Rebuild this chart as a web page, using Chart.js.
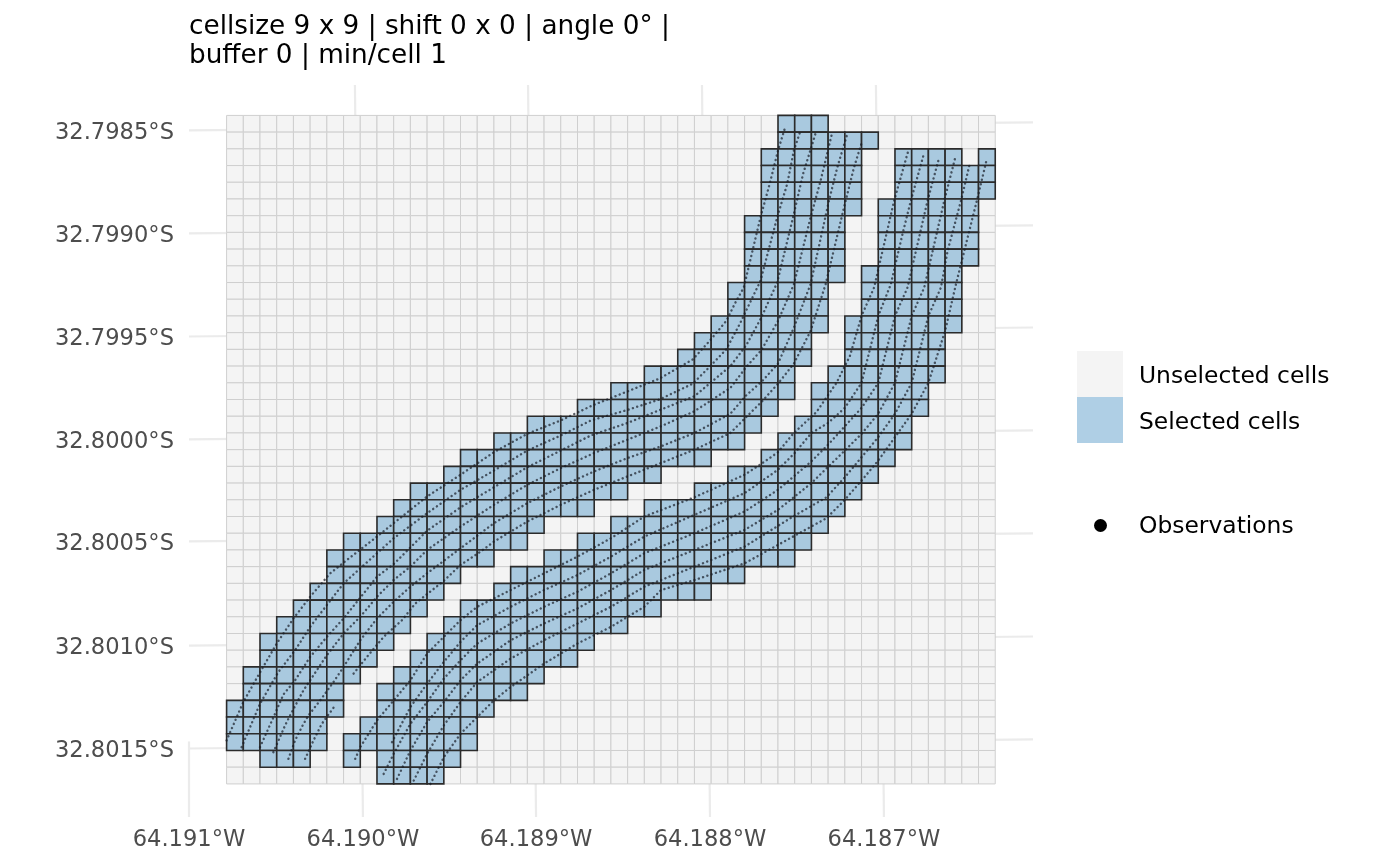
<!DOCTYPE html>
<html>
<head>
<meta charset="utf-8">
<title>cell selection</title>
<script src="https://cdn.jsdelivr.net/npm/chart.js@4"></script>
<style>
    html, body { margin: 0; padding: 0; background: #fff; }
    body { width: 1400px; height: 866px; position: relative; overflow: hidden; font-family: "DejaVu Sans", sans-serif; }
    canvas { position: absolute; left: 0; top: 0; }
    .title { position: absolute; left: 189px; top: 11px; font-size: 26.3px; line-height: 28.6px; color: #000; white-space: pre; }
    .key { position: absolute; left: 1077px; width: 46px; height: 46px; }
    .dot { position: absolute; left: 1094px; top: 519px; width: 13px; height: 13px; border-radius: 50%; background: #000; }
    .label { position: absolute; left: 1139px; font-size: 23.4px; line-height: 24px; color: #000; white-space: pre; }
</style>
</head>
<body>
<canvas id="chart" width="1400" height="866"></canvas>
<div class="title">cellsize 9 x 9 | shift 0 x 0 | angle 0° |
buffer 0 | min/cell 1</div>
<div class="key" style="top:351px;background:#f4f4f4"></div>
<div class="key" style="top:397px;background:#afcfe5"></div>
<div class="dot"></div>
<div class="label" style="top:363px">Unselected cells</div>
<div class="label" style="top:409px">Selected cells</div>
<div class="label" style="top:513px">Observations</div>
<script>
// all positions are in grid units: x = cell column, y = cell row from the top
const gridCols = 46;
const gridRows = 40;

// selected columns of each row, as [first, last]
const selectedRanges = [
    [[33, 35]],
    [[33, 38]],
    [[32, 37], [40, 43], [45, 45]],
    [[32, 37], [40, 45]],
    [[32, 37], [40, 45]],
    [[32, 37], [39, 44]],
    [[31, 36], [39, 44]],
    [[31, 36], [39, 44]],
    [[31, 36], [39, 44]],
    [[31, 36], [38, 43]],
    [[30, 35], [38, 43]],
    [[30, 35], [38, 43]],
    [[29, 35], [37, 43]],
    [[28, 34], [37, 42]],
    [[27, 34], [37, 42]],
    [[25, 33], [36, 42]],
    [[23, 33], [35, 41]],
    [[21, 32], [35, 41]],
    [[18, 31], [34, 40]],
    [[16, 30], [33, 40]],
    [[14, 28], [32, 39]],
    [[13, 25], [30, 38]],
    [[11, 23], [28, 37]],
    [[10, 21], [25, 36]],
    [[9, 18], [23, 35]],
    [[7, 17], [21, 34]],
    [[6, 15], [19, 33]],
    [[6, 13], [17, 30]],
    [[5, 12], [16, 28]],
    [[4, 11], [14, 25]],
    [[3, 10], [13, 23]],
    [[2, 9], [12, 21]],
    [[2, 8], [11, 20]],
    [[1, 7], [10, 18]],
    [[1, 6], [9, 17]],
    [[0, 6], [9, 15]],
    [[0, 5], [8, 14]],
    [[0, 5], [7, 14]],
    [[2, 4], [7, 7], [9, 13]],
    [[9, 12]]
];

const passL1 = [[0,37.4],[1,35.1],[1.9,33.5],[3,31.6],[4,30.1],[5,28.8],[6.2,27.4],[7.2,26.6],[9,25.2],[10,24.4],[12,22.8],[14,21.5],[16,20.15],[18,19.05],[20,18.25],[21.9,17.35],[23.9,16.55],[25.9,15.75],[27.9,14.6],[28.9,13.5],[29.9,12.3],[30.5,11.1],[30.95,10.3],[31.95,6.1],[32.5,4.1],[33,2.1],[33.4,0.8]];
const passL2 = [[0.9,37.8],[2,35.2],[3.1,33.3],[4.1,32],[5,30.6],[6,29.3],[7,28],[9,26.2],[10,25.3],[12,23.8],[14,22.4],[16,21.25],[18,20.05],[20,19.15],[21.8,18.25],[23.9,17.65],[25.9,17],[27.9,16.05],[28.9,15.05],[29.9,14],[30.7,12.5],[31.95,9.9],[32.95,6.1],[33.55,4.1],[33.95,2.1],[34.35,0.9]];
const passL3 = [[2,37.8],[2.9,35.8],[3.4,34.65],[4.1,33.8],[5,32.4],[6,31.2],[7,30.1],[8,28.85],[9,27.6],[10,26.85],[11,25.85],[12,24.85],[14,23.45],[16,22.25],[18,21.05],[20,20.05],[21.8,19.15],[24,18.4],[26,17.6],[28,16.8],[30.15,15],[31.1,13.75],[32,12.1],[32.95,10],[33.9,6.1],[34.5,3.5],[35.3,0.9]];
const passL4 = [[2.8,38.1],[3.5,36.5],[3.8,35.9],[4.6,34.4],[6,32.3],[7,31],[8,30],[9,28.8],[10,27.8],[11,27],[12,26],[14,24.6],[16,23.3],[18,22.1],[20,21.1],[22,20.2],[24,19.4],[26,18.6],[28,17.7],[30.15,16.3],[31.1,15.05],[32,14.05],[33,12.3],[33.95,10.1],[34.95,6.1],[35.55,3.9],[36.25,1]];
const passL5 = [[3.7,38.5],[4.1,37.4],[4.55,36.5],[4.9,35.9],[5.6,35],[6.4,33.9],[7,33],[8,31.4],[9,30.1],[10,29.1],[11,28.2],[12,27.4],[14,25.9],[16,24.4],[18,23.2],[20,22.2],[22,21.3],[24,20.5],[26,19.8],[28,19],[30.15,17.85],[31.1,16.75],[32.1,15.85],[33,14.85],[33.95,12.7],[34.95,10.1],[36.05,5.1],[36.55,3.1],[37.15,1.1]];
const passL6a = [[4.7,38.5],[5.2,37.4],[5.7,36.4],[6.5,35.3]];
const passL6b = [[7.6,33.4],[8.4,32.4],[9.4,31.2],[10.5,30.2],[11.3,29.2],[11.8,28.8],[13,27.85],[14,26.9],[15.2,26.1],[16,25.5],[18,24.3],[20,23.3],[22,22.4],[24,21.6],[26,20.8],[28,20],[30.15,19],[31.1,18.05],[32.1,17.05],[33,16.05],[33.95,14.85],[34.95,12.9],[35.85,10.1],[36.95,5.5],[37.55,3.1],[38.05,1.5]];
const passR1 = [[7.7,38.5],[8,37.8],[9,36.2],[10,35],[11,33.8],[12,32.2],[13,31.2],[14,30.2],[15,29.4],[17,28.4],[19,27.4],[21,26.4],[23,25.3],[25,24],[28,22.85],[31,21.5],[32,20.85],[33,20.15],[33.9,19.05],[35.3,17.75],[36.5,16],[37.3,14.4],[38,12],[38.75,10.3],[39.35,7.7],[39.95,5.1],[40.8,2.1]];
const passR2 = [[9.9,37.5],[11,35.4],[12,34],[13,32.7],[14,31.5],[15,30.5],[17,29.4],[19,28.4],[21,27.5],[23,26.4],[25,25.2],[28,23.9],[31,22.6],[33,21.2],[34,20.2],[35,19],[36,18.4],[37,17.5],[38,16],[39,12],[39.75,10.1],[40.45,7.1],[40.95,5.1],[41.7,2.4]];
const passR3 = [[9.4,39.4],[10,38.2],[11,36.4],[12,35.1],[13,33.7],[14,32.6],[15,31.6],[17,30.4],[19,29.4],[21,28.5],[23,27.4],[25,26.2],[28,25],[31,23.7],[33,22.4],[35,20.7],[36,19.7],[37,18.6],[38,17.5],[39,16],[40,12],[40.75,10.3],[41.35,7.7],[41.95,5.1],[42.65,2.5]];
const passR4 = [[10.2,39.7],[11,38],[12,36.3],[13,35.1],[14,33.8],[15,32.8],[17,31.4],[19,30.4],[21,29.5],[23,28.4],[25,27.2],[28,26],[31,24.8],[33,23.6],[35,22],[37,20.05],[38,19.05],[39,17.85],[40,16],[41,12],[41.75,10.3],[42.35,7.7],[42.95,5.1],[43.6,2.55]];
const passR5 = [[11.2,39.8],[12,38.2],[13,36.5],[14,35.1],[15,33.9],[17,32.5],[19,31.4],[21,30.4],[23,29.4],[25,28.2],[28,27],[31,25.8],[33.9,24],[35.9,22.85],[37,21.65],[38,20.45],[39,19.25],[40,17.85],[41,16],[42,12],[42.75,10.3],[43.15,8.1],[43.95,5.1],[44.45,3]];
const passR6 = [[12.2,40],[13,38.4],[14,37],[15,36],[16,35],[17,34.2],[19,32.8],[21,31.6],[23,30.6],[25,29.4],[26,28.4],[28,27.8],[31,26.8],[33.9,25.2],[35.9,24.1],[37,23],[38,21.85],[39,20.65],[40,19.25],[41,17.85],[42,16],[43,12.9],[43.65,10.1],[44.15,8.1],[44.95,4.9],[45.45,2.8]];
const passes = [passL1, passL2, passL3, passL4, passL5, passL6a, passL6b, passR1, passR2, passR3, passR4, passR5, passR6];

// tick labels and where they sit on the grid
const lonLabels = ['64.191°W', '64.190°W', '64.189°W', '64.188°W', '64.187°W'];
const lonTicks = [-2.25, 8.16, 18.52, 28.93, 39.34];
const latLabels = ['32.7985°S', '32.7990°S', '32.7995°S', '32.8000°S', '32.8005°S', '32.8010°S', '32.8015°S'];
const latTicks = [1.05, 7.2, 13.38, 19.53, 25.65, 31.86, 38.02];

// graticule is a little tilted: where each line leaves the panel
const lonLinesTop = [-2.25, 7.68, 18.04, 28.45, 38.86];
const lonLinesTopRow = [37.46, -1.82, -1.82, -1.82, -1.82];
const latLinesLeft = [0.9, 7.06, 13.23, 19.39, 25.49, 31.72, 37.88];
const latLinesRight = [0.42, 6.58, 12.69, 18.85, 25.01, 31.18, 37.34];

const xMin = -2.25, xMax = 48.26;
const yMin = -1.82, yMax = 41.98;

function buildCells() {
    const selected = [];
    const unselected = [];
    for (let row = 0; row < gridRows; row++) {
        for (let col = 0; col < gridCols; col++) {
            const cell = { x: col + 0.5, y: row + 0.5 };
            const isSelected = selectedRanges[row].some(r => col >= r[0] && col <= r[1]);
            (isSelected ? selected : unselected).push(cell);
        }
    }
    return { selected, unselected };
}

function graticuleDataset(points) {
    return {
        data: points,
        showLine: true,
        borderColor: '#ebebeb',
        borderWidth: 2.2,
        pointRadius: 0,
        clip: false,
        order: 4
    };
}

const cells = buildCells();
// chart.js rect marker has side radius * sqrt(2)
const cellRadius = 16.71 / Math.SQRT2;

const datasets = [];
lonTicks.forEach((x, i) => {
    datasets.push(graticuleDataset([{ x: x, y: yMax }, { x: lonLinesTop[i], y: lonLinesTopRow[i] }]));
});
latLinesLeft.forEach((y, i) => {
    datasets.push(graticuleDataset([{ x: xMin, y: y }, { x: xMax, y: latLinesRight[i] }]));
});
datasets.push({
    label: 'Unselected cells',
    data: cells.unselected,
    pointStyle: 'rect',
    pointRadius: cellRadius,
    pointBackgroundColor: '#f4f4f4',
    pointBorderColor: '#cfcfcf',
    pointBorderWidth: 1,
    order: 3
});
datasets.push({
    label: 'Selected cells',
    data: cells.selected,
    pointStyle: 'rect',
    pointRadius: cellRadius,
    pointBackgroundColor: '#a9c9df',
    pointBorderColor: '#2b2b2b',
    pointBorderWidth: 1.6,
    order: 2
});
passes.forEach(pass => {
    datasets.push({
        label: 'Observations',
        data: pass.map(p => ({ x: p[0], y: p[1] })),
        showLine: true,
        borderColor: 'rgba(25, 30, 40, 0.7)',
        borderWidth: 2.4,
        borderDash: [0.1, 4.4],
        borderCapStyle: 'round',
        pointRadius: 0,
        order: 1
    });
});

new Chart(document.getElementById('chart').getContext('2d'), {
    type: 'scatter',
    data: { datasets: datasets },
    options: {
        responsive: false,
        animation: false,
        layout: { padding: { top: 85, right: 367, left: 0, bottom: 0 } },
        plugins: { legend: { display: false }, title: { display: false }, tooltip: { enabled: false } },
        scales: {
            x: {
                type: 'linear',
                min: xMin,
                max: xMax,
                grid: { display: false, drawTicks: false },
                border: { display: false },
                afterBuildTicks: scale => { scale.ticks = lonTicks.map(v => ({ value: v })); },
                afterFit: scale => { scale.height = 49; },
                ticks: {
                    autoSkip: false,
                    maxRotation: 0,
                    padding: 10,
                    color: '#4d4d4d',
                    font: { family: 'DejaVu Sans', size: 22.6 },
                    callback: (value, index) => lonLabels[index]
                }
            },
            y: {
                type: 'linear',
                reverse: true,
                min: yMin,
                max: yMax,
                grid: { display: false, drawTicks: false },
                border: { display: false },
                afterBuildTicks: scale => { scale.ticks = latTicks.map(v => ({ value: v })); },
                afterFit: scale => { scale.width = 189; },
                ticks: {
                    autoSkip: false,
                    padding: 15,
                    color: '#4d4d4d',
                    font: { family: 'DejaVu Sans', size: 22.6 },
                    callback: (value, index) => latLabels[index]
                }
            }
        }
    }
});
</script>
</body>
</html>
